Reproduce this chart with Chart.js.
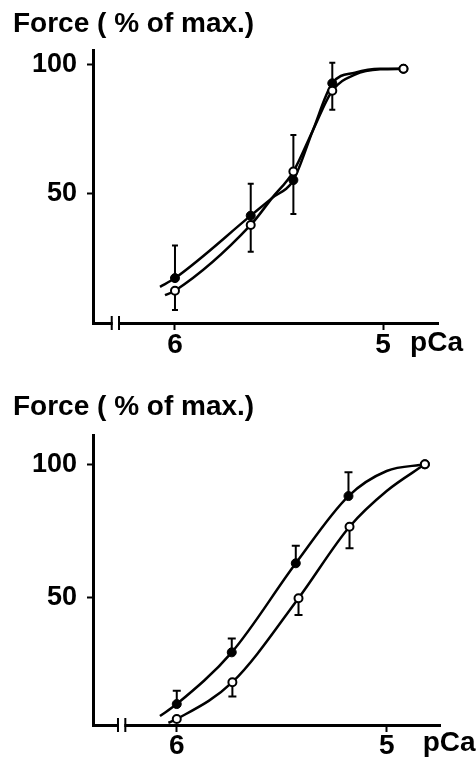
<!DOCTYPE html>
<html>
<head>
<meta charset="utf-8">
<script src="https://cdn.jsdelivr.net/npm/chart.js@4/dist/chart.umd.min.js"></script>
<style>
  html, body { margin: 0; padding: 0; background: #fff; }
  .panel { position: absolute; left: 0; width: 476px; height: 384px; }
  #p1 { top: 0; }
  #p2 { top: 384px; }
</style>
</head>
<body>
<div class="panel" id="p1"><canvas id="c1" width="476" height="384"></canvas></div>
<div class="panel" id="p2"><canvas id="c2" width="476" height="384"></canvas></div>
<script>
// ---- shared axis labels ----
const yTickValues = [50, 100];
const xTickValues = [6, 5];
const yTitle = 'Force ( % of max.)';
const xUnit = 'pCa';

// ---- upper panel: measured points (filled and open symbols) ----
const topPCa = [6.0, 5.636, 5.431, 5.244, 4.902];
const topFilled = [17.4, 41.6, 55.4, 92.9, 98.5];
const topOpen = [12.5, 38.0, 58.7, 90.0, 98.5];
// end of each one-sided error bar (null = no bar)
const topFilledBarEnd = [30.0, 54.0, 42.2, 100.9, null];
const topOpenBarEnd = [5.0, 27.6, 72.9, 82.6, null];
// fitted curves
const topFilledCurvePCa = [6.072, 6.0, 5.636, 5.534, 5.431, 5.338, 5.244, 5.135, 5.014, 4.902];
const topFilledCurve = [14.0, 17.4, 41.6, 48.4, 55.4, 74.5, 92.9, 97.0, 98.5, 98.5];
const topOpenCurvePCa = [6.048, 6.0, 5.636, 5.534, 5.431, 5.338, 5.244, 5.135, 5.014, 4.902];
const topOpenCurve = [10.8, 12.5, 38.0, 48.4, 58.7, 74.5, 90.0, 96.3, 98.3, 98.5];

// ---- lower panel ----
const botFilledPCa = [6.0, 5.738, 5.433, 5.182, 4.818];
const botFilled = [10.1, 29.5, 62.9, 88.1, 100];
const botOpenPCa = [6.0, 5.735, 5.42, 5.177, 4.818];
const botOpen = [4.5, 18.3, 49.8, 76.6, 100];
const botFilledBarEnd = [15.1, 34.7, 69.5, 97.0, null];
const botOpenBarEnd = [null, 12.9, 43.5, 68.5, null];
const botFilledCurvePCa = [6.08, 6.0, 5.738, 5.433, 5.182, 5.0, 4.818];
const botFilledCurve = [5.6, 10.1, 29.5, 62.9, 88.1, 97.5, 100];
const botOpenCurvePCa = [6.04, 6.0, 5.735, 5.42, 5.177, 5.0, 4.818];
const botOpenCurve = [3.1, 4.5, 18.3, 49.8, 76.6, 90.0, 100];

const FONT = '"Liberation Sans", Arial, Helvetica, sans-serif';

function pts(xs, ys) { return xs.map((x, i) => ({ x: x, y: ys[i] })); }

// one-sided error bars, axis break, and text labels
const decorations = {
  id: 'decorations',
  beforeDatasetsDraw(chart) {
    const { ctx, scales: { x, y } } = chart;
    const cap = chart.options.plugins.decorations.cap;
    ctx.save();
    ctx.strokeStyle = '#000';
    ctx.lineWidth = 2;
    chart.data.datasets.forEach(ds => {
      if (!ds.barEnd) return;
      ds.data.forEach((p, i) => {
        const e = ds.barEnd[i];
        if (e === null || e === undefined) return;
        const px = x.getPixelForValue(p.x);
        const py0 = y.getPixelForValue(p.y);
        const py1 = y.getPixelForValue(e);
        ctx.beginPath();
        ctx.moveTo(px, py0); ctx.lineTo(px, py1);
        ctx.moveTo(px - cap, py1); ctx.lineTo(px + cap, py1);
        ctx.stroke();
      });
    });
    ctx.restore();
  },
  afterDraw(chart) {
    const o = chart.options.plugins.decorations;
    const { ctx, scales: { x } } = chart;
    const axisY = chart.chartArea.bottom;
    ctx.save();
    // axis break
    const b1 = x.getPixelForValue(o.breakAt[0]);
    const b2 = x.getPixelForValue(o.breakAt[1]);
    ctx.fillStyle = '#fff';
    ctx.fillRect(b1 + 1, axisY - 3, b2 - b1 - 2, 6);
    ctx.strokeStyle = '#000';
    ctx.lineWidth = 2;
    ctx.beginPath();
    ctx.moveTo(b1, axisY - 7); ctx.lineTo(b1, axisY + 7);
    ctx.moveTo(b2, axisY - 7); ctx.lineTo(b2, axisY + 7);
    ctx.stroke();
    // texts
    ctx.fillStyle = '#000';
    ctx.textAlign = 'left';
    ctx.textBaseline = 'alphabetic';
    ctx.font = 'bold 28px ' + FONT;
    ctx.fillText(yTitle, 13, o.titleBaseline);
    ctx.fillText(xUnit, x.getPixelForValue(5) + o.unitOffset, o.unitBaseline);
    ctx.restore();
  }
};

function makeChart(id, cfg) {
  return new Chart(document.getElementById(id), {
    type: 'scatter',
    data: {
      datasets: [
        { data: pts(cfg.fCurveX, cfg.fCurveY), showLine: true, pointRadius: 0, borderColor: '#000',
          borderWidth: 2.5, cubicInterpolationMode: 'monotone', order: 4, clip: false },
        { data: pts(cfg.oCurveX, cfg.oCurveY), showLine: true, pointRadius: 0, borderColor: '#000',
          borderWidth: 2.5, cubicInterpolationMode: 'monotone', order: 3, clip: false },
        { data: pts(cfg.fX, cfg.fY), barEnd: cfg.fBar, showLine: false, pointRadius: 4.5,
          backgroundColor: '#000', borderColor: '#000', borderWidth: 1, order: 2, clip: false },
        { data: pts(cfg.oX, cfg.oY), barEnd: cfg.oBar, showLine: false, pointRadius: 4,
          backgroundColor: '#fff', borderColor: '#000', borderWidth: 2, order: 1, clip: false }
      ]
    },
    options: {
      responsive: false,
      animation: false,
      devicePixelRatio: 1,
      layout: { padding: { left: 0, right: cfg.padRight, top: cfg.padTop, bottom: 0 } },
      plugins: {
        legend: { display: false },
        tooltip: { enabled: false },
        decorations: cfg.deco
      },
      scales: {
        x: {
          type: 'linear', reverse: true, min: cfg.xMin, max: cfg.xMax,
          afterBuildTicks: a => { a.ticks = xTickValues.map(v => ({ value: v })); },
          afterFit: a => { a.height = cfg.xHeight; },
          grid: { drawOnChartArea: false, drawTicks: true, tickLength: 7, tickWidth: 2, tickColor: '#000' },
          border: { display: true, color: '#000', width: 3 },
          ticks: { color: '#000', padding: cfg.xPad, maxRotation: 0, autoSkip: false,
                   font: { family: FONT, size: 28, weight: 'bold' }, callback: v => String(v) }
        },
        y: {
          type: 'linear', min: cfg.yMin, max: cfg.yMax,
          afterBuildTicks: a => { a.ticks = yTickValues.map(v => ({ value: v })); },
          afterFit: a => { a.width = 93; },
          grid: { drawOnChartArea: false, drawTicks: true, tickLength: 6, tickWidth: 2, tickColor: '#000' },
          border: { display: true, color: '#000', width: 3 },
          ticks: { color: '#000', padding: 10,
                   font: { family: FONT, size: 27, weight: 'bold' }, callback: v => String(v) }
        }
      }
    },
    plugins: [decorations]
  });
}

makeChart('c1', {
  fX: topPCa, fY: topFilled, fBar: topFilledBarEnd,
  oX: topPCa, oY: topOpen, oBar: topOpenBarEnd,
  fCurveX: topFilledCurvePCa, fCurveY: topFilledCurve,
  oCurveX: topOpenCurvePCa, oCurveY: topOpenCurve,
  xMin: 4.736, xMax: 6.394, yMin: 0, yMax: 105.8,
  padTop: 50, padRight: 38, xHeight: 61, xPad: -2,
  deco: { cap: 3, breakAt: [6.304, 6.269], titleBaseline: 32, unitOffset: 27, unitBaseline: 351 }
});

makeChart('c2', {
  fX: botFilledPCa, fY: botFilled, fBar: botFilledBarEnd,
  oX: botOpenPCa, oY: botOpen, oBar: botOpenBarEnd,
  fCurveX: botFilledCurvePCa, fCurveY: botFilledCurve,
  oCurveX: botOpenCurvePCa, oCurveY: botOpenCurve,
  xMin: 4.746, xMax: 6.399, yMin: 2.25, yMax: 111.0,
  padTop: 51, padRight: 36, xHeight: 43, xPad: -3,
  deco: { cap: 4, breakAt: [6.28, 6.245], titleBaseline: 31, unitOffset: 36, unitBaseline: 367 }
});
</script>
</body>
</html>
